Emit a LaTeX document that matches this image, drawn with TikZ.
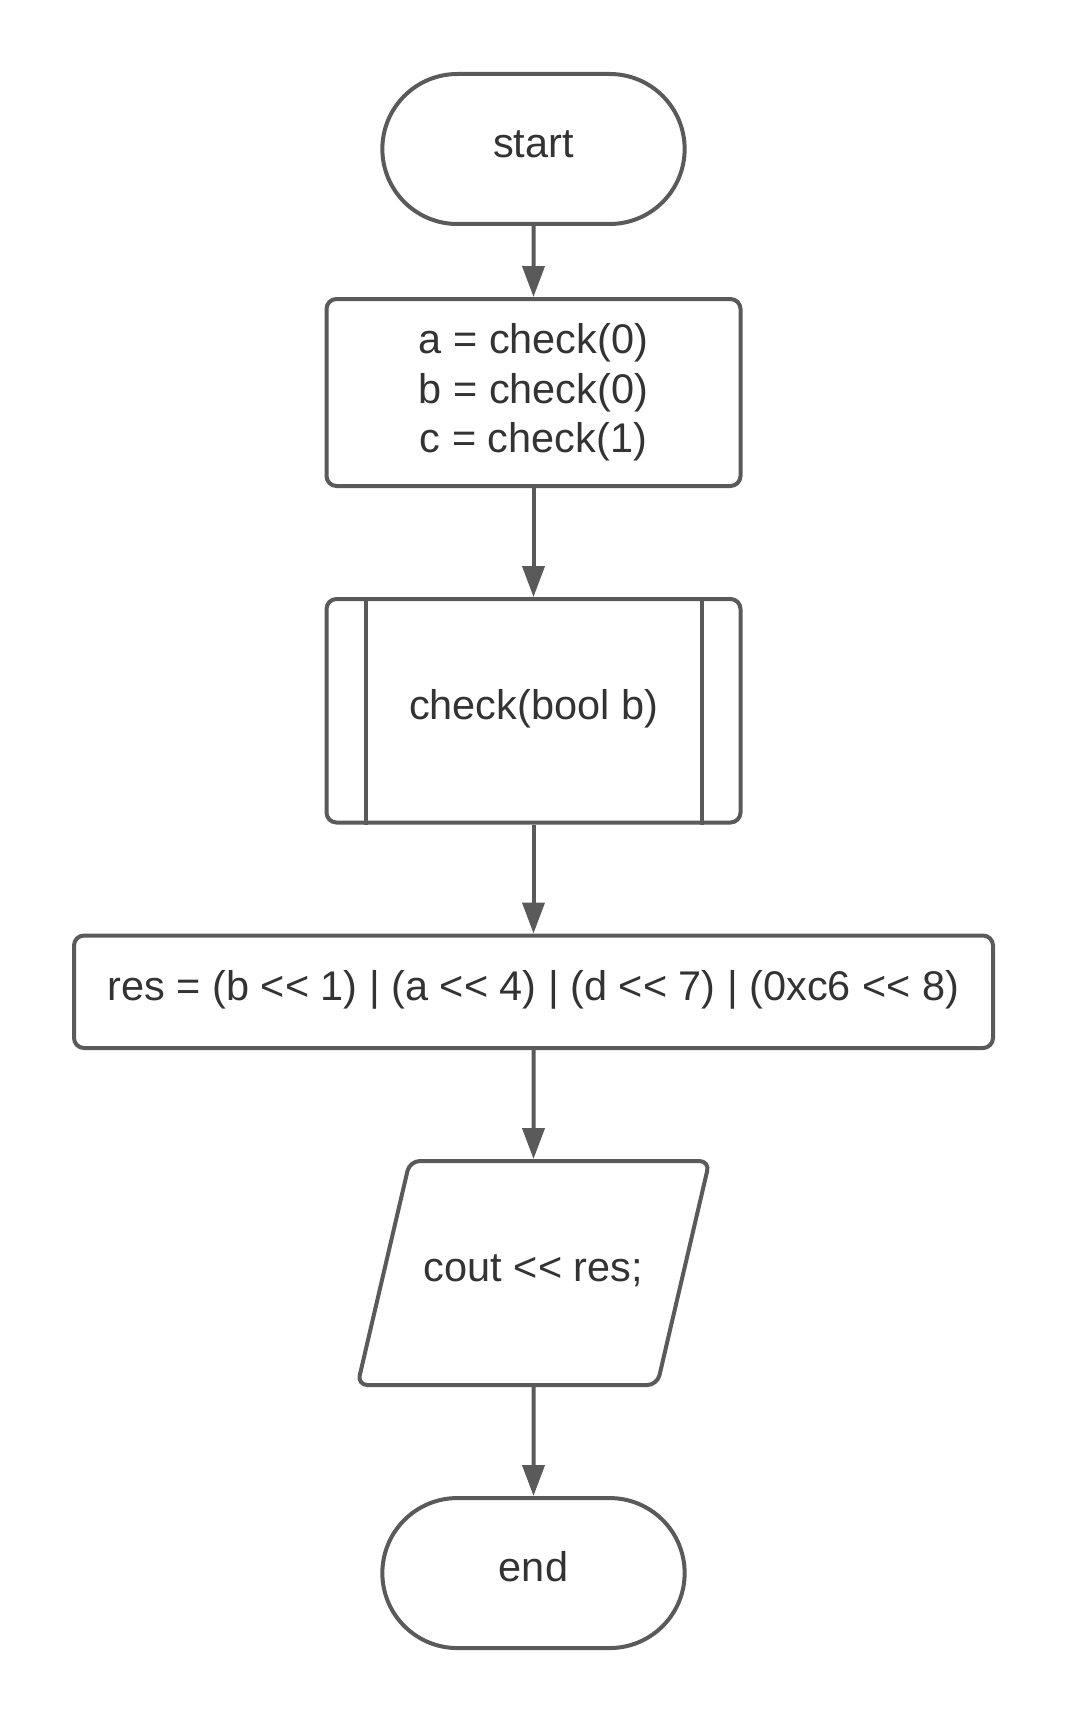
\documentclass[tikz,border=0pt]{standalone}
\usepackage{fontspec}
\setmainfont[Ligatures=TeXOff]{Liberation Sans}
\usetikzlibrary{shapes.geometric,shapes.misc,arrows.meta,positioning}
\definecolor{edgegray}{HTML}{5A5A5A}
\definecolor{textgray}{HTML}{333333}

\begin{document}
\begin{tikzpicture}[
    node distance=2.18cm,
    every node/.style={font=\fontsize{23.6}{28.2}\selectfont, text=textgray},
    oneline/.style={text height=17pt, text depth=7.5pt},
    terminal/.style={rounded rectangle, draw=edgegray, line width=0.08cm, oneline, minimum width=6.28cm, minimum height=3.0cm},
    process/.style={rectangle, draw=edgegray, line width=0.08cm, rounded corners=0.2cm, align=center, minimum width=8.28cm, minimum height=3.74cm},
    subproc/.style={process, oneline, minimum height=4.47cm},
    io/.style={trapezium, trapezium left angle=76.8, trapezium right angle=103.2, trapezium stretches body, draw=edgegray, line width=0.08cm, rounded corners=0.2cm, oneline, inner ysep=1.8cm, minimum width=7.04cm, minimum height=4.48cm},
    arrow/.style={draw=edgegray, line width=0.08cm, -{Triangle[length=0.62cm, width=0.44cm]}}
]

% frame
\useasboundingbox (0,0) rectangle (21.38,-34.5);

% Start
\node[terminal] (start) at (10.67,-2.98) {start};

% Init and subroutine
\node[process, below=1.42cm of start] (init) {a = check(0)\\b = check(0)\\c = check(1)};
\node[subproc, below=of init] (check) {check(bool b)};
\draw[edgegray, line width=0.08cm] ([xshift=0.82cm]check.north west) -- ([xshift=0.82cm]check.south west);
\draw[edgegray, line width=0.08cm] ([xshift=-0.82cm]check.north east) -- ([xshift=-0.82cm]check.south east);

% Result
\node[process, oneline, below=of check, minimum width=18.38cm, minimum height=2.25cm] (res) {res = (b << 1) | (a << 4) | (d << 7) | (0xc6 << 8)};

% Output
\node[io, below=of res] (out) {cout << res;};

% End
\node[terminal, below=of out] (end) {end};

% Arrows
\draw[arrow] (start) -- (init);
\draw[arrow] (init) -- (check);
\draw[arrow] (check) -- (res);
\draw[arrow] (res) -- (out);
\draw[arrow] (out) -- (end);

\end{tikzpicture}
\end{document}
